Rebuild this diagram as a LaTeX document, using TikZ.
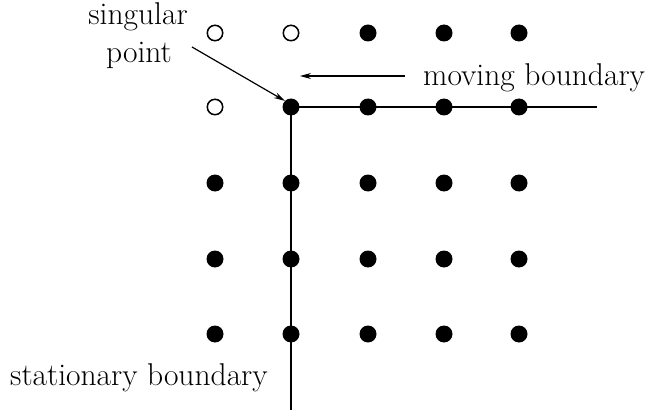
\documentclass[tikz,border=0pt]{standalone}
\usetikzlibrary{arrows.meta}
\begin{document}
\begin{tikzpicture}[x=1pt,y=-1pt,
  full/.style={circle,fill=black,inner sep=0pt,minimum size=17pt},
  hollow/.style={circle,draw=black,line width=1.1pt,fill=white,inner sep=0pt,minimum size=15pt},
  lbl/.style={font=\fontsize{31.5}{34}\selectfont,inner sep=0pt,anchor=base},
  bline/.style={line width=1.2pt},
  arr/.style={line width=1.2pt,-{Stealth[length=11pt,width=6pt]}}]
\useasboundingbox (0,0) rectangle (646,412);
% boundary lines
\coordinate (hend) at (597,107);
\coordinate (vend) at (291,410);
% dots
\foreach \c [count=\i] in {215,291,368,444,519}{
  \foreach \r [count=\j] in {33,107,183,259,334}{
    \node[full] (d\i\j) at (\c,\r) {};
  }
}
\node[hollow] at (d11) {};
\node[hollow] at (d21) {};
\node[hollow] at (d12) {};
\draw[bline] (d22.center) -- (hend);
\draw[bline] (d22.center) -- (vend);
% labels
\node[lbl] (sing) at (138,25) {singular};
\node[lbl] (pt) at (139,63) {point};
\node[lbl,anchor=base west] (mov) at (423,85) {moving boundary};
\node[lbl,anchor=base west] (stat) at (10,385) {stationary boundary};
\coordinate (s0) at (192,47);
\coordinate (m0) at (405,76);
\coordinate (m1) at (300,76);
\draw[arr] (s0) -- (d22.north west);
\draw[arr] (m0) -- (m1);
\end{tikzpicture}
\end{document}
